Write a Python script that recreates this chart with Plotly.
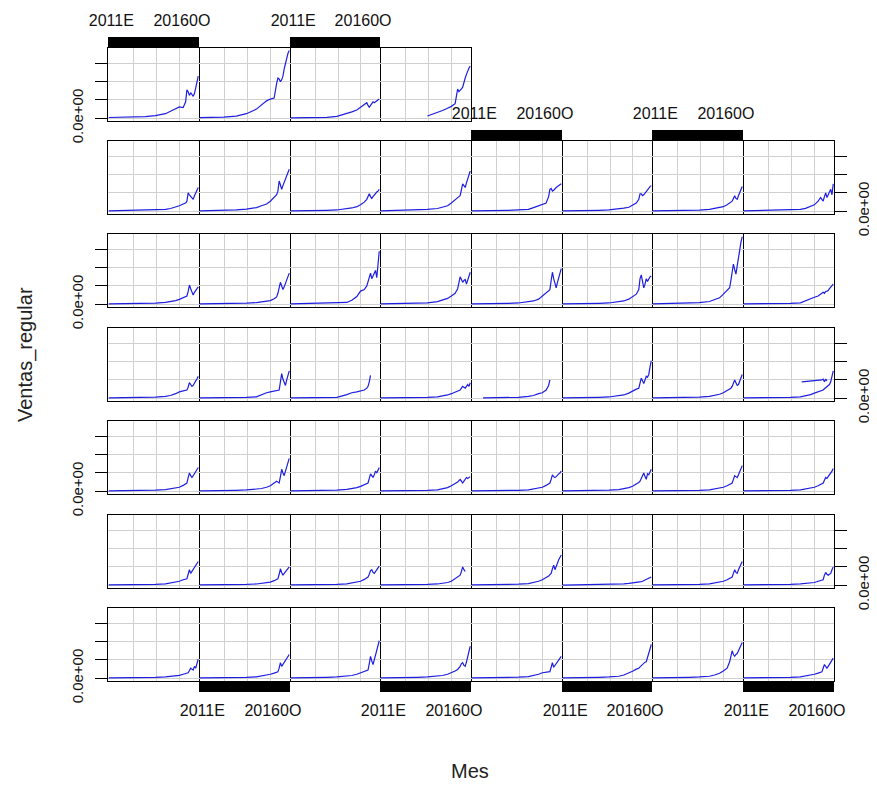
import plotly.graph_objects as go

# ---------------- data ----------------
meses = [1, 10, 20, 30, 38, 46, 50, 54, 57, 60, 62, 63, 64, 65, 66, 67, 68, 69, 70, 71, 72]
niveles = list(range(1, 73))
etiquetas_x = {3: "2011E", 59: "20160O"}
grid_x = [21, 39, 57]
ticks_y = [0, 1, 2, 3]
etiquetas_y = ["0.0e+00", "", "", ""]

N = None
fila_1 = [
    [0.04, 0.05, 0.06, 0.09, 0.14, 0.25, 0.38, 0.5, 0.62, 0.58, 0.9, 1.55, 1.45, 1.25, 1.4, 1.3, 1.2, 1.35, 1.7, 2.0, 2.3],
    [0.03, 0.04, 0.06, 0.12, 0.25, 0.5, 0.75, 0.95, 1.05, 1.1, 1.9, 2.2, 2.15, 2.0, 2.1, 2.3, 2.7, 3.0, 3.3, 3.55, 3.7],
    [0.02, 0.02, 0.03, 0.05, 0.1, 0.25, 0.35, 0.45, 0.6, 0.7, 0.85, 0.7, 0.6, 0.7, 0.8, 0.9, 0.85, 0.9, 0.95, 1.0, 1.05],
    [N, N, N, N, 0.12, 0.3, 0.42, 0.55, 0.65, 0.8, 1.6, 1.45, 1.5, 1.6, 1.7, 2.0, 2.2, 2.4, 2.6, 2.75, 2.85],
]
fila_2 = [
    [0.02, 0.03, 0.04, 0.05, 0.07, 0.1, 0.15, 0.22, 0.3, 0.4, 0.45, 0.55, 1.0, 0.9, 0.8, 0.7, 0.65, 0.85, 1.0, 1.15, 1.3],
    [0.02, 0.03, 0.05, 0.08, 0.12, 0.2, 0.3, 0.4, 0.55, 0.75, 0.9, 1.1, 1.65, 1.45, 1.2, 1.4, 1.6, 1.8, 2.0, 2.15, 2.3],
    [0.02, 0.02, 0.03, 0.05, 0.07, 0.12, 0.18, 0.25, 0.35, 0.5, 0.65, 0.8, 0.95, 0.8, 0.7, 0.8, 0.9, 1.0, 1.05, 1.1, 1.2],
    [0.02, 0.03, 0.04, 0.06, 0.1, 0.15, 0.22, 0.3, 0.45, 0.65, 0.75, 0.8, 0.85, 1.1, 1.5, 1.4, 1.3, 1.55, 1.8, 2.0, 2.2],
    [0.02, 0.02, 0.03, 0.05, 0.07, 0.1, 0.2, 0.3, 0.4, 0.45, 0.8, 1.2, 1.25, 1.1, 1.15, 1.25, 1.3, 1.35, 1.4, 1.45, 1.5],
    [0.02, 0.02, 0.03, 0.05, 0.07, 0.12, 0.17, 0.22, 0.32, 0.45, 0.65, 0.95, 0.95, 0.85, 0.9, 1.0, 1.1, 1.2, 1.3, 1.35, 1.4],
    [0.02, 0.02, 0.03, 0.04, 0.06, 0.1, 0.14, 0.2, 0.25, 0.35, 0.45, 0.5, 0.55, 0.7, 0.85, 0.7, 0.65, 0.85, 1.05, 1.2, 1.35],
    [0.02, 0.03, 0.04, 0.05, 0.07, 0.1, 0.16, 0.25, 0.35, 0.55, 0.75, 0.65, 0.55, 0.8, 1.0, 0.75, 0.9, 1.05, 1.2, 0.9, 1.5],
]
fila_3 = [
    [0.02, 0.02, 0.03, 0.04, 0.06, 0.1, 0.14, 0.2, 0.27, 0.35, 0.4, 0.45, 0.7, 1.05, 0.85, 0.6, 0.5, 0.65, 0.75, 0.85, 0.95],
    [0.02, 0.02, 0.03, 0.04, 0.06, 0.09, 0.13, 0.17, 0.2, 0.3, 0.4, 0.6, 0.9, 1.2, 1.0, 0.8, 0.95, 1.15, 1.35, 1.55, 1.7],
    [0.02, 0.03, 0.04, 0.05, 0.07, 0.1, 0.22, 0.42, 0.72, 0.8, 1.0, 1.2, 1.45, 1.7, 1.4, 1.55, 1.7, 1.85, 1.45, 2.2, 2.9],
    [0.02, 0.03, 0.04, 0.05, 0.08, 0.14, 0.22, 0.32, 0.45, 0.6, 0.85, 1.15, 1.5, 1.35, 1.2, 1.3, 1.35, 1.1, 1.3, 1.55, 1.75],
    [0.02, 0.02, 0.03, 0.05, 0.07, 0.12, 0.18, 0.28, 0.45, 0.65, 0.72, 0.8, 1.3, 1.75, 1.4, 1.1, 0.9, 1.2, 1.5, 1.75, 1.95],
    [0.02, 0.02, 0.03, 0.05, 0.07, 0.12, 0.18, 0.28, 0.4, 0.55, 0.8, 1.4, 1.6, 1.2, 0.9, 1.1, 1.4, 1.25, 1.4, 1.5, 1.55],
    [0.02, 0.03, 0.04, 0.06, 0.09, 0.15, 0.23, 0.35, 0.55, 0.75, 0.9, 1.3, 1.8, 2.2, 1.9, 1.65, 2.1, 2.6, 3.0, 3.4, 3.7],
    [0.02, 0.02, 0.03, 0.04, 0.05, 0.08, 0.2, 0.3, 0.38, 0.45, 0.55, 0.6, 0.65, 0.6, 0.7, 0.72, 0.75, 0.85, 0.95, 1.0, 1.1],
]
fila_4 = [
    [0.02, 0.02, 0.03, 0.04, 0.06, 0.1, 0.15, 0.25, 0.35, 0.4, 0.42, 0.45, 0.6, 0.85, 0.75, 0.65, 0.7, 0.85, 0.95, 1.05, 1.2],
    [0.02, 0.02, 0.03, 0.04, 0.05, 0.08, 0.2, 0.3, 0.35, 0.4, 0.42, 0.45, 0.45, 0.9, 1.35, 1.05, 0.8, 0.7, 1.0, 1.3, 1.5],
    [0.02, 0.02, 0.03, 0.04, 0.05, 0.2, 0.3, 0.35, 0.42, 0.45, 0.55, 0.65, 0.9, 1.25, N, N, N, N, N, N, N],
    [0.02, 0.02, 0.03, 0.04, 0.05, 0.08, 0.12, 0.18, 0.25, 0.32, 0.38, 0.42, 0.45, 0.55, 0.65, 0.6, 0.55, 0.65, 0.75, 0.65, 0.85],
    [N, 0.02, 0.02, 0.03, 0.05, 0.1, 0.15, 0.25, 0.3, 0.45, 0.7, 1.0, N, N, N, N, N, N, N, N, N],
    [0.02, 0.02, 0.03, 0.05, 0.07, 0.12, 0.18, 0.28, 0.4, 0.5, 0.55, 0.8, 1.1, 0.95, 0.8, 1.0, 1.2, 1.15, 1.3, 1.7, 2.05],
    [0.02, 0.02, 0.03, 0.04, 0.06, 0.1, 0.15, 0.22, 0.3, 0.42, 0.5, 0.55, 0.65, 0.8, 1.0, 0.85, 0.7, 0.75, 0.95, 1.15, 1.3],
    [0.02, 0.02, 0.03, 0.04, 0.05, 0.08, 0.12, 0.2, 0.28, 0.35, 0.4, 0.43, 0.45, 0.52, 0.58, 0.62, 0.65, 0.75, 0.9, 1.2, 1.5],
]
extra_x_f4c8 = [47, 52, 57, 61, 63, 64, 65, 66, 67]
extra_y_f4c8 = [0.9, 0.92, 0.95, 0.98, 1.0, 1.05, 0.9, 1.05, 0.95]
fila_5 = [
    [0.02, 0.02, 0.03, 0.04, 0.06, 0.09, 0.13, 0.18, 0.22, 0.32, 0.4, 0.45, 0.75, 1.0, 0.85, 0.75, 0.85, 0.95, 1.05, 1.2, 1.3],
    [0.02, 0.02, 0.03, 0.05, 0.07, 0.1, 0.15, 0.22, 0.3, 0.45, 0.55, 0.5, 0.45, 0.8, 1.2, 1.0, 0.85, 1.1, 1.35, 1.6, 1.8],
    [0.02, 0.02, 0.03, 0.04, 0.06, 0.1, 0.14, 0.2, 0.27, 0.37, 0.42, 0.45, 0.7, 0.95, 0.85, 0.75, 0.9, 1.1, 1.0, 1.15, 1.3],
    [0.02, 0.02, 0.03, 0.04, 0.05, 0.08, 0.12, 0.2, 0.3, 0.4, 0.5, 0.58, 0.65, 0.55, 0.45, 0.55, 0.65, 0.75, 0.7, 0.75, 0.8],
    [0.02, 0.02, 0.03, 0.04, 0.05, 0.08, 0.12, 0.18, 0.22, 0.32, 0.4, 0.45, 0.65, 0.9, 0.8, 0.75, 0.8, 0.9, 0.95, 1.0, 1.1],
    [0.02, 0.02, 0.03, 0.04, 0.06, 0.09, 0.13, 0.2, 0.27, 0.38, 0.48, 0.55, 0.7, 0.9, 1.0, 0.8, 0.65, 0.95, 0.9, 1.05, 1.2],
    [0.02, 0.02, 0.03, 0.04, 0.05, 0.08, 0.12, 0.17, 0.22, 0.3, 0.38, 0.42, 0.45, 0.65, 0.85, 0.8, 0.75, 0.9, 1.1, 1.25, 1.4],
    [0.02, 0.02, 0.03, 0.04, 0.05, 0.08, 0.12, 0.17, 0.22, 0.3, 0.38, 0.42, 0.45, 0.6, 0.75, 0.7, 0.8, 0.85, 0.95, 1.1, 1.25],
]
fila_6 = [
    [0.02, 0.02, 0.03, 0.04, 0.05, 0.08, 0.12, 0.17, 0.22, 0.3, 0.33, 0.35, 0.6, 0.85, 0.65, 0.75, 0.85, 0.95, 1.05, 1.2, 1.3],
    [0.02, 0.02, 0.03, 0.04, 0.05, 0.07, 0.1, 0.13, 0.17, 0.25, 0.3, 0.35, 0.6, 0.9, 0.7, 0.55, 0.65, 0.75, 0.85, 0.95, 1.0],
    [0.02, 0.02, 0.03, 0.04, 0.05, 0.08, 0.12, 0.17, 0.22, 0.32, 0.4, 0.45, 0.6, 0.8, 0.85, 0.7, 0.65, 0.75, 0.85, 0.95, 1.05],
    [0.02, 0.02, 0.03, 0.04, 0.05, 0.07, 0.1, 0.15, 0.22, 0.35, 0.42, 0.48, 0.55, 0.75, 1.0, 0.85, 0.75, N, N, N, N],
    [0.02, 0.02, 0.03, 0.04, 0.06, 0.09, 0.14, 0.22, 0.3, 0.4, 0.5, 0.58, 0.65, 0.9, 1.1, 0.85, 1.0, 1.2, 1.4, 1.55, 1.65],
    [0.01, 0.02, 0.02, 0.03, 0.04, 0.05, 0.07, 0.1, 0.12, 0.15, 0.18, 0.2, 0.2, 0.22, 0.25, 0.28, 0.3, 0.33, 0.37, 0.4, 0.45],
    [0.02, 0.02, 0.03, 0.04, 0.05, 0.08, 0.12, 0.17, 0.22, 0.3, 0.38, 0.42, 0.45, 0.65, 0.85, 0.7, 0.65, 0.85, 1.0, 1.15, 1.3],
    [0.02, 0.02, 0.03, 0.04, 0.05, 0.07, 0.1, 0.13, 0.15, 0.22, 0.26, 0.28, 0.3, 0.55, 0.7, 0.6, 0.55, 0.6, 0.65, 0.85, 1.0],
]
fila_7 = [
    [0.02, 0.02, 0.03, 0.04, 0.05, 0.07, 0.1, 0.13, 0.16, 0.22, 0.26, 0.28, 0.3, 0.42, 0.55, 0.5, 0.45, 0.65, 0.55, 0.8, 1.05],
    [0.02, 0.02, 0.03, 0.04, 0.05, 0.08, 0.12, 0.17, 0.22, 0.28, 0.33, 0.35, 0.55, 0.85, 0.65, 0.75, 0.85, 0.95, 1.05, 1.2, 1.3],
    [0.02, 0.02, 0.03, 0.05, 0.07, 0.1, 0.15, 0.22, 0.3, 0.38, 0.43, 0.45, 0.8, 1.2, 0.95, 0.75, 1.0, 1.3, 1.6, 1.85, 2.05],
    [0.02, 0.02, 0.03, 0.05, 0.07, 0.1, 0.15, 0.22, 0.3, 0.4, 0.48, 0.55, 0.65, 0.8, 0.85, 0.7, 0.65, 0.9, 1.2, 1.5, 1.75],
    [0.02, 0.02, 0.03, 0.04, 0.06, 0.09, 0.15, 0.22, 0.3, 0.35, 0.35, 0.36, 0.6, 0.85, 0.6, 0.7, 0.8, 0.9, 1.0, 1.1, 1.2],
    [0.02, 0.02, 0.03, 0.05, 0.07, 0.11, 0.18, 0.27, 0.38, 0.5, 0.55, 0.62, 0.7, 0.78, 0.85, 0.88, 0.9, 1.1, 1.35, 1.6, 1.85],
    [0.02, 0.02, 0.03, 0.05, 0.07, 0.11, 0.18, 0.27, 0.4, 0.55, 0.9, 1.3, 1.5, 1.3, 1.2, 1.3, 1.35, 1.5, 1.65, 1.8, 1.95],
    [0.02, 0.02, 0.03, 0.04, 0.05, 0.08, 0.12, 0.17, 0.22, 0.28, 0.32, 0.35, 0.55, 0.75, 0.65, 0.55, 0.65, 0.75, 0.85, 0.95, 1.1],
]
filas = [fila_1, fila_2, fila_3, fila_4, fila_5, fila_6, fila_7]

# ---------------- layout ----------------
OFF = 8                      # page body margin
W, H = 877 - OFF, 786 - OFF  # keep the figure inside the viewport (no scrollbars)
LEFT0, COLW = 108.0 - OFF, 90.75
TOP0, PITCH, PH = 47.7 - OFF, 93.4, 73
GRID = "#d0d0d0"
LINE = "rgb(30,30,225)"
FONT = "Liberation Sans, Arial, sans-serif"

x_top = {(0, 0), (0, 2), (1, 4), (1, 6)}
x_bottom = {(6, 1), (6, 3), (6, 5), (6, 7)}
y_left = {(0, 0), (2, 0), (4, 0), (6, 0)}
y_right = {(1, 7), (3, 7), (5, 7)}

fig = go.Figure()
layout = {}
k = 0
for r, fila in enumerate(filas):
    for c, vals in enumerate(fila):
        k += 1
        xs = list(meses)
        ys = list(vals)
        if (r, c) == (3, 7):
            xs = xs + [None] + extra_x_f4c8
            ys = ys + [None] + extra_y_f4c8
        fig.add_trace(go.Scatter(x=xs, y=ys, mode="lines",
                                 line=dict(color=LINE, width=1.2),
                                 xaxis=f"x{k}", yaxis=f"y{k}",
                                 showlegend=False, hoverinfo="skip"))
        x0 = round(LEFT0 + c * COLW)
        x1 = round(LEFT0 + (c + 1) * COLW)
        t = round(TOP0 + r * PITCH)
        b = t + PH
        xa = dict(domain=[x0 / W, x1 / W], range=[0.4, 72.6], anchor=f"y{k}",
                  automargin=False,
                  showline=True, mirror=True, linecolor="black", linewidth=1,
                  zeroline=False, showgrid=False, fixedrange=True,
                  minor=dict(tickmode="array", tickvals=grid_x, showgrid=True,
                             gridcolor=GRID, gridwidth=1, ticks=""))
        if (r, c) in x_top or (r, c) in x_bottom:
            xa.update(tickmode="array", tickvals=niveles,
                      ticktext=[etiquetas_x.get(n, "") for n in niveles],
                      ticks="outside", ticklen=10, tickwidth=1.5, tickcolor="black",
                      side="top" if (r, c) in x_top else "bottom",
                      showticklabels=True, tickangle=0, ticklabelstandoff=5,
                      tickfont=dict(family=FONT, size=16, color="#111"))
        else:
            xa.update(tickmode="array", tickvals=[], ticks="", showticklabels=False)

        # frame: left line only on the first column, right line on every panel
        if c == 0:
            yside, ymirror = "left", True
        else:
            yside, ymirror = "right", False
        ya = dict(domain=[1 - b / H, 1 - t / H], range=[-0.15, 3.84], anchor=f"x{k}",
                  automargin=False, side=yside,
                  showline=True, mirror=ymirror, linecolor="black", linewidth=1,
                  zeroline=False, showgrid=True, gridcolor=GRID, gridwidth=1,
                  tickmode="array", tickvals=ticks_y, fixedrange=True)
        if (r, c) in y_left or (r, c) in y_right:
            ya.update(ticktext=etiquetas_y, ticks="outside", ticklen=12,
                      tickwidth=1, tickcolor="black",
                      showticklabels=True, tickangle=-90,
                      ticklabelstandoff=6 if (r, c) in y_left else 4,
                      tickfont=dict(family=FONT, size=15, color="#111"))
        else:
            ya.update(ticks="", showticklabels=False)
        layout[f"xaxis{k}"] = xa
        layout[f"yaxis{k}"] = ya

fig.update_layout(**layout)
fig.update_layout(
    width=W, height=H, autosize=False,
    margin=dict(l=0, r=0, t=0, b=0, autoexpand=False),
    paper_bgcolor="white", plot_bgcolor="white",
    font=dict(family=FONT, color="#111"),
    annotations=[
        dict(text="Ventas_regular", x=(25 - OFF) / W, y=1 - (355 - OFF) / H,
             xref="paper", yref="paper",
             showarrow=False, textangle=-90, font=dict(family=FONT, size=20, color="#222"),
             xanchor="center", yanchor="middle"),
        dict(text="Mes", x=(470 - OFF) / W, y=1 - (771 - OFF) / H,
             xref="paper", yref="paper",
             showarrow=False, font=dict(family=FONT, size=20, color="#222"),
             xanchor="center", yanchor="middle"),
    ],
)

fig.write_html("out.html")
